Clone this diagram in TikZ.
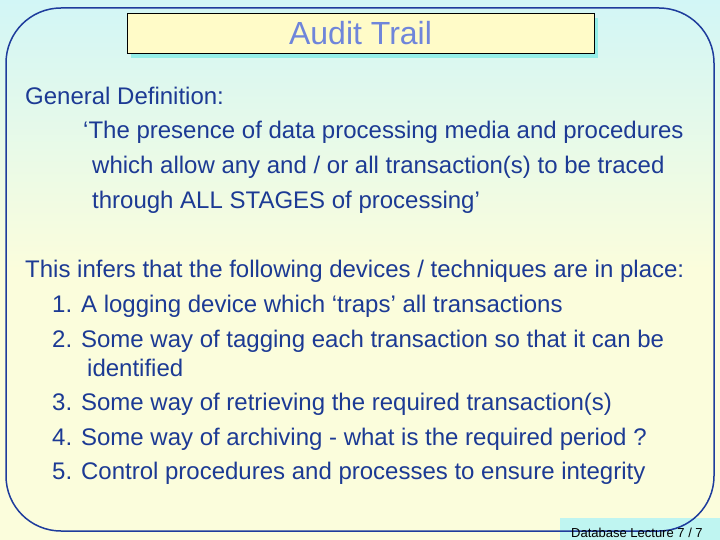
\documentclass[tikz,border=0pt]{standalone}
\usepackage{fontspec}
\setmainfont{Liberation Sans}
\definecolor{slidecyan}{HTML}{D2F6F6}
\definecolor{slideyellow}{HTML}{FBFDDC}
\definecolor{framblue}{HTML}{1E3C9C}
\definecolor{textblue}{HTML}{1C3A94}
\definecolor{titleblue}{HTML}{6F85DA}
\definecolor{titlefill}{HTML}{FFFBC8}
\definecolor{shadowcyan}{HTML}{94EEE8}
\tikzset{
  bodytext/.style={anchor=base west,inner sep=0pt,text=textblue,font=\fontsize{24}{28}\selectfont},
  foottext/.style={anchor=base west,inner sep=0pt,font=\fontsize{13}{15}\selectfont}
}
\begin{document}
\begin{tikzpicture}[x=1pt,y=-1pt]
  % background
  \shade[top color=slidecyan,bottom color=slideyellow,middle color=slideyellow] (0,0) rectangle (720,540);
  \fill[shadowcyan!60] (560,518) rectangle (720,540);
  \useasboundingbox (0,0) rectangle (720,540);
  % frame
  \draw[framblue,semithick,line width=1.5pt,rounded corners=55pt] (6,531) -- (6,8) -- (714,8) -- (714,531) -- cycle;
  % title
  \fill[shadowcyan] (131,18) rectangle (598,58);
  \node[draw,thick,fill=titlefill,minimum width=467pt,minimum height=40pt,inner sep=0pt,
        text=titleblue,font=\fontsize{32}{36}\selectfont] (title) at (360.5,33) {Audit Trail};
  % body
  \node[bodytext] (gen) at (25,105) {General Definition:};
  \node[bodytext] (def1) at (83,139) {‘The presence of data processing media and procedures};
  \node[bodytext] (def2) at (92,174) {which allow any and / or all transaction(s) to be traced};
  \node[bodytext] (def3) at (92,208) {through ALL STAGES of processing’};
  \node[bodytext] (inf) at (25,277) {This infers that the following devices / techniques are in place:};
  \node[bodytext] (it1) at (52,312) {1. A logging device which ‘traps’ all transactions};
  \node[bodytext] (it2) at (52,347) {2. Some way of tagging each transaction so that it can be};
  \node[bodytext] (it2b) at (87,376) {identified};
  \node[bodytext] (it3) at (52,410) {3. Some way of retrieving the required transaction(s)};
  \node[bodytext] (it4) at (52,445) {4. Some way of archiving - what is the required period ?};
  \node[bodytext] (it5) at (52,479) {5. Control procedures and processes to ensure integrity};
  % footer
  \node[foottext] (foot) at (571,537) {Database Lecture 7 /  7};
\end{tikzpicture}
\end{document}
